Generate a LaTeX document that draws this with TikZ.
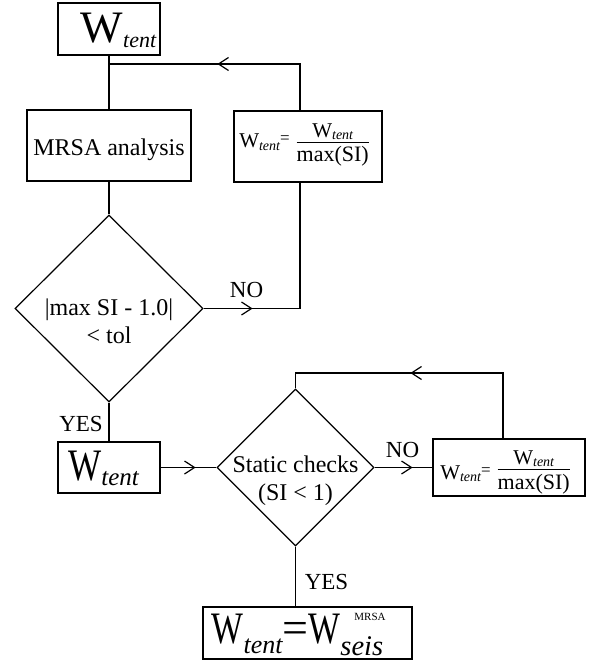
\documentclass[tikz,border=0pt]{standalone}
\usepackage{fontspec}
\setmainfont{Liberation Serif}
\usepackage{graphicx}
\usetikzlibrary{shapes.geometric,arrows.meta,decorations.markings}
\newcommand{\fs}[1]{\fontsize{#1}{#1}\selectfont}
\newcommand{\wfrac}[3]{\lower#1\vbox{\halign{\hfil##\hfil\cr#2\cr\noalign{\kern2.5pt\hrule height0.8pt\kern4pt}#3\cr}}}
\newcommand{\twolines}[2]{\makebox[0pt]{\vbox{\baselineskip=28pt\halign{\hfil##\hfil\cr#1\cr#2\cr}}}}
\newcommand{\wformula}[1]{{\fs{21}W}\raisebox{-2pt}{\fs{14}\itshape tent}\raisebox{4pt}{\fs{17}=}\hspace{7pt}\wfrac{#1}{{\fs{21}W}\raisebox{-2pt}{\fs{14}\itshape tent}}{\fs{22}max(SI)}\hspace*{8pt}}
\tikzset{
  ln/.style={line width=1.2pt},
  boxnode/.style={draw, line width=1.2pt, inner sep=0pt, rectangle},
  dia/.style={draw, line width=1.2pt, diamond, inner sep=0pt, font=\fs{24}},
  lbl/.style={inner sep=0pt, font=\fs{23}},
  midarrow/.style={postaction={decorate}, decoration={markings, mark=at position #1 with {\arrow{Straight Barb[length=10pt,width=13pt]}}}}
}
\begin{document}
\begin{tikzpicture}[x=1pt,y=-1pt]
\useasboundingbox (0,0) rectangle (596,663);
% nodes
\node[boxnode, minimum width=102pt, minimum height=52pt, text height=30pt, text depth=2pt] (t1) at (109,29)
  {\hspace*{19pt}{\fs{45}W}\raisebox{-5pt}{\fs{22}\itshape tent}};
\node[boxnode, minimum width=164pt, minimum height=71pt, text height=21pt, text depth=0pt, font=\fs{24}] (mrsa) at (109,145.5) {MRSA analysis};
\node[boxnode, minimum width=148pt, minimum height=71pt, text height=20pt, text depth=17pt] (f1) at (308,146.5) {\wformula{14pt}};
\node[dia, minimum width=188pt, minimum height=187pt, text height=69pt, text depth=0pt] (d1) at (109,308.5)
  {\twolines{|max SI - 1.0|}{< tol}};
\node[boxnode, minimum width=102pt, minimum height=51pt, text height=27pt, text depth=2pt] (t2) at (109,467.5)
  {{\fs{45}\scalebox{0.78}[1]{W}}\raisebox{-5pt}{\fs{25}\itshape tent}\hspace*{11pt}};
\node[dia, minimum width=157pt, minimum height=157pt, text height=65pt, text depth=0pt] (d2) at (295.5,467.5)
  {\twolines{Static checks}{(SI < 1)}};
\node[boxnode, minimum width=152pt, minimum height=57pt, text height=25pt, text depth=2pt] (f2) at (509,467.5) {\wformula{10pt}};
\node[boxnode, minimum width=209pt, minimum height=52pt, text height=20pt, text depth=0pt] (b3) at (307.5,633)
  {{\fs{45}\scalebox{0.75}[1]{W}}\raisebox{-10pt}{\fs{26}\itshape tent}{\fs{46}=}{\fs{45}\scalebox{0.75}[1]{W}}\rlap{\raisebox{23pt}{\hspace{14pt}\fs{11}MRSA}}\raisebox{-12pt}{\fs{28.5}\itshape seis}\hspace*{20pt}};
% labels
\node[lbl] (no1) at (246.5,290) {NO};
\node[lbl] (yes1) at (81,423.5) {YES};
\node[lbl] (no2) at (402.5,450) {NO};
\node[lbl] (yes2) at (326.5,581.5) {YES};
% connectors
\draw[ln] (t1.south) -- (mrsa.north);
\draw[ln] (mrsa.south) -- (d1.north);
\draw[ln] (d1.south) -- (t2.north);
\coordinate (c1) at (300,64);
\draw[ln, midarrow=49pt] (d1.east) -- (c1 |- d1.east) -- (c1 |- f1.south);
\draw[ln, midarrow=129pt] (c1 |- f1.north) -- (c1) -- (t1.south |- c1);
\draw[ln, midarrow=35pt] (t2.east) -- (d2.west);
\draw[ln, midarrow=38pt] (d2.east) -- (f2.west);
\coordinate (c2) at (503,373);
\draw[ln, midarrow=158pt] (c2 |- f2.north) -- (c2) -- (d2.north |- c2) -- (d2.north);
\draw[ln] (d2.south) -- (d2.south |- b3.north);
\end{tikzpicture}
\end{document}
